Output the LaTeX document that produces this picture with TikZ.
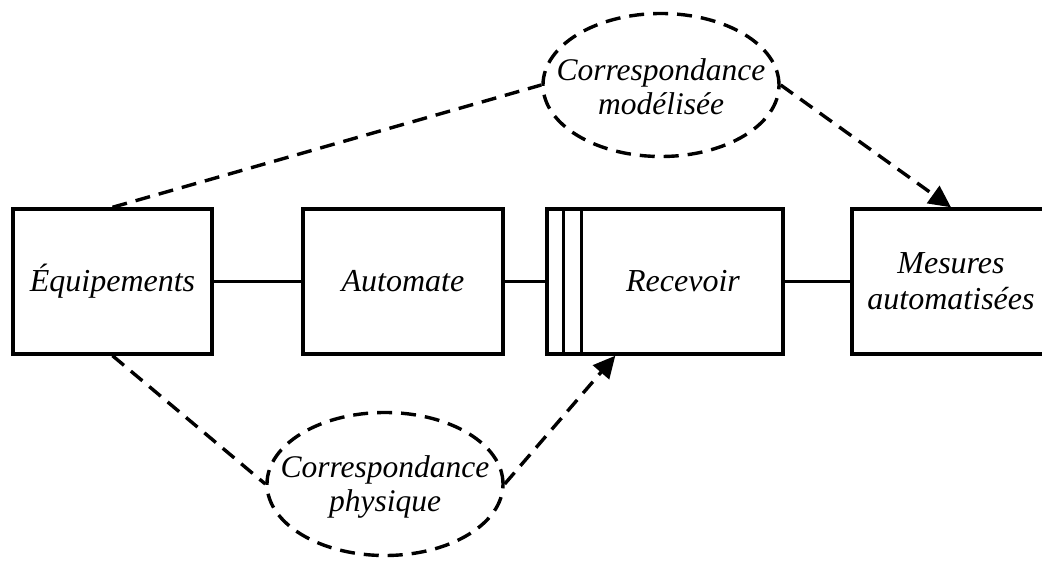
\documentclass[tikz,border=0pt]{standalone}
\usepackage{fontspec}
\setmainfont{Liberation Serif}[ItalicFont={Liberation Serif Italic}]
\usetikzlibrary{shapes.geometric,arrows.meta}
\begin{document}
\begin{tikzpicture}[x=1pt,y=-1pt,
  blockbox/.style={draw,line width=3.4pt,rectangle,minimum height=145pt,inner sep=0pt,
    font=\fontsize{32}{36}\selectfont\itshape,align=center},
  corresp/.style={draw,line width=3.4pt,dash pattern=on 15pt off 9pt,ellipse,
    minimum width=236pt,minimum height=143pt,inner sep=0pt},
  corrtext/.style={font=\fontsize{31.5}{34}\selectfont\itshape,align=center,inner sep=0pt},
  link/.style={line width=3.4pt},
  dlink/.style={line width=3.4pt,dash pattern=on 15pt off 9pt},
  darrow/.style={dlink,-{Triangle[length=22pt,width=21pt]}}
]
\useasboundingbox (0,0) rectangle (1042,561);

% main chain of blocks
\node[blockbox,minimum width=199pt] (equip) at (112.5,281.5) {Équipements};
\node[blockbox,minimum width=200pt] (auto) at (403,281.5) {Automate};
\node[blockbox,minimum width=236pt] (rec) at (665,281.5) {};
\node[font=\fontsize{32}{36}\selectfont\itshape,inner sep=0pt] (reclabel) at (683,281.5) {Recevoir};
\node[blockbox,minimum width=198pt] (mes) at (951,281.5) {Mesures\\automatisées};

% double bar on the left side of the receiving block
\draw[link] ([xshift=18pt]rec.north west) -- ([xshift=18pt]rec.south west);
\draw[link] ([xshift=36pt]rec.north west) -- ([xshift=36pt]rec.south west);

\draw[link] (equip.east) -- (auto.west);
\draw[link] (auto.east) -- (rec.west);
\draw[link] (rec.east) -- (mes.west);

% correspondences
\node[corresp] (model) at (661,85) {};
\node[corrtext] (modeltext) at (661,87) {Correspondance\\modélisée};
\node[corresp] (phys) at (385,484) {};
\node[corrtext] (phystext) at (385,487) {Correspondance\\physique};

\coordinate (recin) at ([xshift=70pt]rec.south west);

\draw[dlink] (equip.north) -- (model.west);
\draw[darrow] (model.east) -- (mes.north);
\draw[dlink] (equip.south) -- (phys.west);
\draw[darrow] (phys.east) -- (recin);
\end{tikzpicture}
\end{document}
